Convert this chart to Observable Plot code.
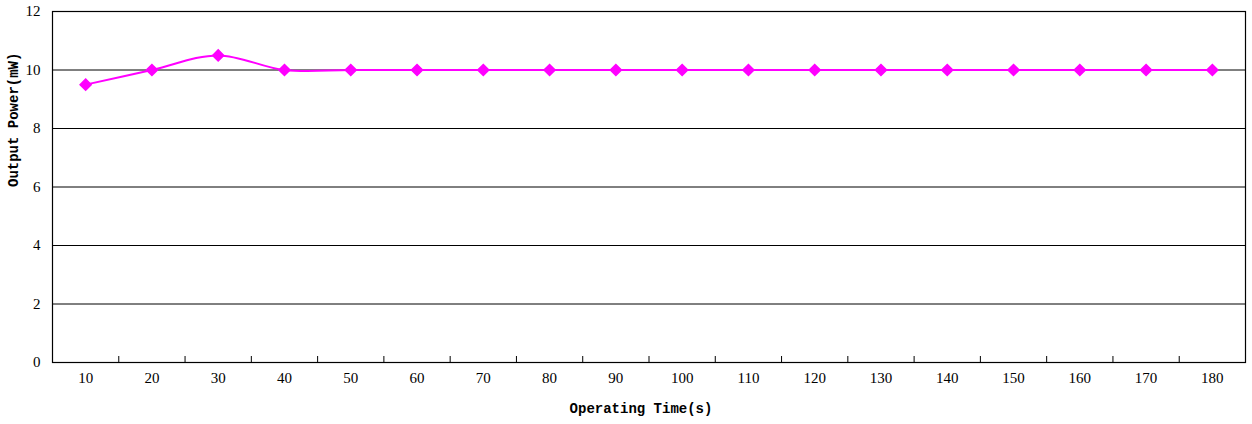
<!DOCTYPE html>
<html>
<head>
<meta charset="utf-8">
<script src="https://cdn.jsdelivr.net/npm/d3@7"></script>
<script src="https://cdn.jsdelivr.net/npm/@observablehq/plot@0.6"></script>
<style>
  html, body { margin: 0; padding: 0; background: #fff; }
  #chart svg { display: block; }
  #chart svg g[aria-label="x-axis tick label"] text, #chart svg g[aria-label="y-axis tick label"] text { font-family: "Liberation Serif", serif; }
</style>
</head>
<body>
<div id="chart"></div>
<script>
const times = [10, 20, 30, 40, 50, 60, 70, 80, 90, 100, 110, 120, 130, 140, 150, 160, 170, 180];
const power = [9.5, 10, 10.5, 10, 10, 10, 10, 10, 10, 10, 10, 10, 10, 10, 10, 10, 10, 10];
const yTicks = [0, 2, 4, 6, 8, 10, 12];
const xDividers = [15, 25, 35, 45, 55, 65, 75, 85, 95, 105, 115, 125, 135, 145, 155, 165, 175];

const data = times.map((t, i) => ({t, p: power[i]}));

const chart = Plot.plot({
  width: 1252,
  height: 424,
  marginLeft: 52,
  marginRight: 7,
  marginTop: 11,
  marginBottom: 62,
  style: {fontFamily: "'Liberation Serif', serif", fontSize: "15px", color: "#000", background: "#fff"},
  x: {type: "linear", domain: [5, 185]},
  y: {domain: [0, 12]},
  marks: [
    Plot.gridY(yTicks, {stroke: "#000", strokeOpacity: 1, strokeWidth: 1}),
    Plot.frame({stroke: "#000", strokeWidth: 1.2}),
    Plot.axisX(xDividers, {tickSize: -6, tickFormat: () => "", label: null, stroke: "#000"}),
    Plot.axisX(times, {tickSize: 0, tickPadding: 10, tickFormat: d => String(d), label: null, fontSize: 15, fontFamily: "'Liberation Serif', serif"}),
    Plot.axisY(yTicks, {tickSize: 0, tickPadding: 12, tickFormat: d => String(d), label: null, fontSize: 15, fontFamily: "'Liberation Serif', serif"}),
    Plot.line(data, {x: "t", y: "p", stroke: "#FF00FF", strokeWidth: 2, curve: "catmull-rom"}),
    Plot.dot(data, {x: "t", y: "p", symbol: "diamond2", r: 5, fill: "#FF00FF", stroke: "#FF00FF"}),
    Plot.text(["Operating Time(s)"], {frameAnchor: "bottom", dy: 50, text: d => d, fontFamily: "'Liberation Mono', monospace", fontWeight: "bold", fontSize: 14, dx: -8}),
    Plot.text(["Output Power(mW)"], {frameAnchor: "left", dx: -39, rotate: -90, text: d => d, fontFamily: "'Liberation Mono', monospace", fontWeight: "bold", fontSize: 14})
  ]
});
document.getElementById("chart").appendChild(chart);
</script>
</body>
</html>
